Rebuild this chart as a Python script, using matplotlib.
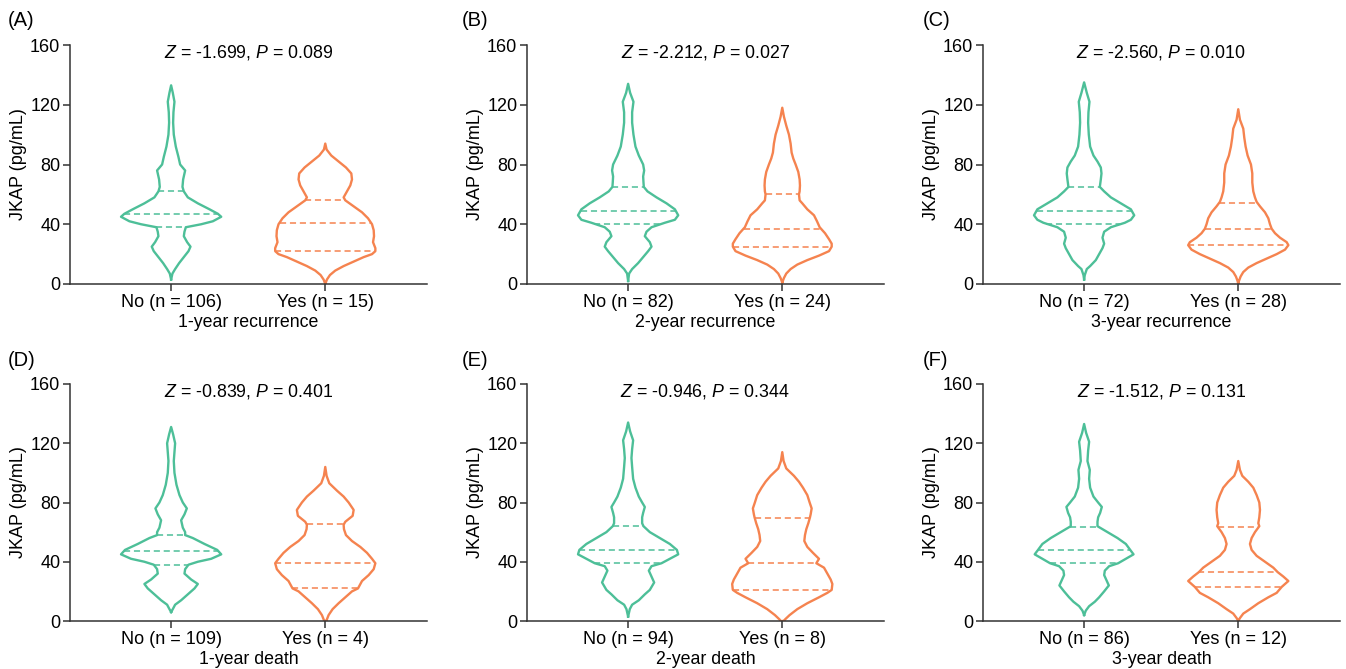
import numpy as np
import matplotlib
matplotlib.use("Agg")
from matplotlib import pyplot as plt

plt.rcParams['font.family'] = ['Liberation Sans', 'DejaVu Sans']
plt.rcParams['mathtext.fontset'] = 'custom'
plt.rcParams['mathtext.it'] = 'Liberation Sans:italic'
plt.rcParams['mathtext.rm'] = 'Liberation Sans'

green = "#4dbf98"
orange = "#f5834f"

# violin outlines: y level (pg/mL) and half width (% of max width)
A_no_y = [3, 7, 10, 14, 18, 22, 25, 28, 32, 35, 38, 40, 42, 45, 47, 50, 54, 58, 62, 65, 70, 76, 80, 85, 92, 100, 108, 115, 122, 128, 133]
A_no_w = [0, 4, 12, 24, 38, 52, 58, 48, 38, 40, 44, 90, 125, 150, 140, 115, 80, 50, 38, 34, 36, 42, 27, 22, 14, 8, 6, 7, 10, 5, 0]
A_yes_y = [0, 3, 6, 9, 12, 15, 18, 20, 22, 24, 28, 32, 36, 40, 44, 48, 52, 56, 58, 62, 66, 70, 74, 78, 82, 86, 90, 94]
A_yes_w = [0, 5, 14, 30, 55, 85, 115, 140, 150, 150, 143, 146, 145, 140, 128, 110, 85, 60, 55, 65, 75, 80, 78, 62, 40, 18, 4, 0]

B_no_y = [2, 7, 10, 14, 18, 22, 25, 28, 32, 35, 38, 41, 43, 46, 50, 54, 58, 62, 65, 68, 72, 76, 80, 86, 92, 100, 108, 115, 122, 128, 134]
B_no_w = [0, 3, 12, 30, 45, 60, 70, 65, 50, 55, 70, 110, 140, 150, 140, 115, 85, 58, 47, 46, 45, 48, 45, 32, 22, 16, 12, 12, 16, 6, 0]
B_yes_y = [1, 4, 7, 10, 13, 16, 19, 22, 25, 27, 30, 34, 38, 42, 46, 50, 54, 56, 60, 62, 66, 70, 75, 80, 84, 88, 94, 100, 106, 112, 118]
B_yes_w = [0, 5, 12, 25, 45, 75, 110, 140, 148, 148, 140, 128, 112, 104, 95, 75, 60, 52, 50, 52, 53, 52, 48, 40, 33, 28, 25, 20, 12, 5, 0]

C_no_y = [3, 6, 10, 12, 16, 20, 24, 27, 31, 35, 38, 41, 43, 46, 50, 54, 58, 62, 65, 70, 74, 78, 82, 86, 92, 100, 108, 115, 122, 128, 135]
C_no_w = [0, 2, 8, 18, 35, 45, 55, 60, 55, 60, 80, 122, 140, 150, 140, 110, 80, 60, 47, 50, 52, 50, 40, 28, 18, 14, 12, 13, 16, 8, 0]
C_yes_y = [0, 2, 5, 8, 11, 14, 17, 20, 23, 26, 28, 31, 34, 37, 40, 44, 48, 52, 55, 58, 62, 68, 74, 80, 86, 92, 98, 104, 110, 117]
C_yes_w = [0, 2, 7, 15, 30, 55, 85, 115, 140, 150, 145, 125, 110, 100, 95, 90, 80, 65, 55, 50, 45, 42, 42, 38, 28, 22, 18, 15, 5, 0]

D_no_y = [6, 8, 11, 14, 18, 22, 25, 28, 32, 35, 38, 40, 42, 45, 48, 52, 56, 58, 60, 63, 68, 72, 76, 80, 85, 92, 100, 108, 114, 120, 126, 131]
D_no_w = [0, 5, 12, 30, 50, 70, 80, 60, 40, 42, 52, 80, 120, 150, 138, 100, 65, 42, 42, 35, 30, 40, 47, 35, 25, 16, 10, 8, 10, 12, 6, 0]
D_yes_y = [0, 4, 8, 12, 16, 20, 22, 27, 31, 35, 39, 42, 46, 50, 54, 58, 62, 65, 67, 71, 75, 80, 84, 88, 93, 98, 104]
D_yes_w = [3, 10, 22, 40, 60, 80, 98, 110, 130, 145, 150, 140, 125, 105, 80, 62, 56, 55, 60, 82, 85, 70, 55, 35, 12, 4, 0]

E_no_y = [3, 8, 11, 14, 18, 21, 26, 30, 34, 37, 39, 42, 45, 48, 52, 56, 60, 64, 66, 70, 73, 77, 80, 84, 90, 96, 104, 110, 116, 122, 128, 134]
E_no_w = [0, 5, 12, 32, 50, 65, 78, 70, 62, 70, 100, 125, 150, 146, 125, 95, 65, 46, 42, 42, 45, 50, 42, 32, 22, 15, 12, 10, 12, 15, 6, 0]
E_yes_y = [0, 1, 4, 8, 12, 16, 19, 21, 25, 28, 32, 36, 39, 42, 46, 50, 54, 58, 62, 66, 70, 72, 76, 80, 85, 90, 94, 98, 103, 108, 114]
E_yes_w = [5, 8, 22, 45, 75, 110, 135, 148, 150, 145, 135, 125, 102, 110, 92, 75, 66, 68, 72, 78, 83, 85, 88, 82, 75, 62, 50, 35, 12, 4, 0]

F_no_y = [4, 7, 10, 13, 16, 20, 24, 27, 31, 34, 37, 39, 42, 45, 48, 52, 56, 60, 64, 67, 70, 73, 77, 80, 84, 90, 96, 102, 108, 115, 121, 127, 133]
F_no_w = [0, 5, 15, 32, 45, 60, 74, 68, 60, 62, 75, 102, 125, 148, 138, 125, 100, 70, 40, 40, 42, 48, 53, 42, 28, 18, 15, 17, 10, 12, 15, 6, 0]
F_yes_y = [0, 2, 5, 8, 12, 16, 19, 23, 27, 30, 33, 36, 40, 44, 48, 52, 56, 60, 64, 66, 70, 75, 80, 85, 90, 94, 98, 102, 108]
F_yes_w = [0, 5, 15, 35, 60, 90, 115, 130, 150, 135, 118, 105, 80, 55, 40, 35, 40, 50, 63, 60, 63, 65, 63, 55, 45, 30, 12, 5, 0]

# quartiles (Q1, median, Q3)
A_no_q, A_yes_q = [38, 47, 62], [22, 41, 56]
B_no_q, B_yes_q = [40.4, 49, 65], [25, 37, 60]
C_no_q, C_yes_q = [40.4, 49, 65], [26, 37, 54.5]
D_no_q, D_yes_q = [37.9, 47, 58.3], [22.2, 39.2, 65.4]
E_no_q, E_yes_q = [39.3, 48, 64], [21, 39, 69.7]
F_no_q, F_yes_q = [39, 47.9, 63.6], [22.8, 32.8, 63.6]

panel_ids = ["(A)", "(B)", "(C)", "(D)", "(E)", "(F)"]
no_n = [106, 82, 72, 109, 94, 86]
yes_n = [15, 24, 28, 4, 8, 12]
z_vals = ["-1.699", "-2.212", "-2.560", "-0.839", "-0.946", "-1.512"]
p_vals = ["0.089", "0.027", "0.010", "0.401", "0.344", "0.131"]
xlabels = ["1-year recurrence", "2-year recurrence", "3-year recurrence",
           "1-year death", "2-year death", "3-year death"]

profiles = [
    (A_no_y, A_no_w, A_no_q, A_yes_y, A_yes_w, A_yes_q),
    (B_no_y, B_no_w, B_no_q, B_yes_y, B_yes_w, B_yes_q),
    (C_no_y, C_no_w, C_no_q, C_yes_y, C_yes_w, C_yes_q),
    (D_no_y, D_no_w, D_no_q, D_yes_y, D_yes_w, D_yes_q),
    (E_no_y, E_no_w, E_no_q, E_yes_y, E_yes_w, E_yes_q),
    (F_no_y, F_no_w, F_no_q, F_yes_y, F_yes_w, F_yes_q),
]

max_hw = 0.325


def draw_violin(ax, pos, ys, ws, qs, color):
    ys = np.array(ys, dtype=float)
    hw = np.array(ws, dtype=float) / 150.0 * max_hw
    xs = np.concatenate([pos + hw, (pos - hw)[::-1], [pos + hw[0]]])
    yy = np.concatenate([ys, ys[::-1], [ys[0]]])
    ax.plot(xs, yy, color=color, lw=1.7, solid_joinstyle="round")
    for q in qs:
        w = np.interp(q, ys, hw)
        ax.plot([pos - w, pos + w], [q, q], color=color, lw=1.1,
                dashes=(4, 2.5))


fig = plt.figure(figsize=(13.46, 6.69), dpi=100)
lefts = [70, 527, 983]
label_x = [8, 462, 923]
for i in range(6):
    row, col = divmod(i, 3)
    if row == 0:
        top, bottom = 45, 284
    else:
        top, bottom = 384, 621
    ax = fig.add_axes([lefts[col] / 1346, 1 - bottom / 669, 357 / 1346, (bottom - top) / 669])
    no_y, no_w, no_q, yes_y, yes_w, yes_q = profiles[i]
    draw_violin(ax, 0, no_y, no_w, no_q, green)
    draw_violin(ax, 1, yes_y, yes_w, yes_q, orange)

    ax.set_xlim(-0.656, 1.66)
    ax.set_ylim(0, 160)
    ax.set_yticks([0, 40, 80, 120, 160])
    ax.set_xticks([0, 1])
    ax.set_xticklabels(["No (n = %d)" % no_n[i], "Yes (n = %d)" % yes_n[i]])
    ax.set_ylabel("JKAP (pg/mL)", fontsize=13, labelpad=2)
    ax.set_xlabel(xlabels[i], fontsize=12.8, labelpad=2.5)
    for s in ["top", "right"]:
        ax.spines[s].set_visible(False)
    for s in ["left", "bottom"]:
        ax.spines[s].set_linewidth(1.1)
        ax.spines[s].set_color("#333333")
    ax.tick_params(labelsize=13, length=5, width=1.1, color="#333333", pad=2)
    ax.text(0.5, 155, r"$\it{Z}$ = %s, $\it{P}$ = %s" % (z_vals[i], p_vals[i]),
            ha="center", va="center", fontsize=12.8)
    fig.text(label_x[col] / 1346, 1 - (top - 24) / 669, panel_ids[i],
             ha="left", va="center", fontsize=14.5)

fig.savefig("out.png", dpi=100)
